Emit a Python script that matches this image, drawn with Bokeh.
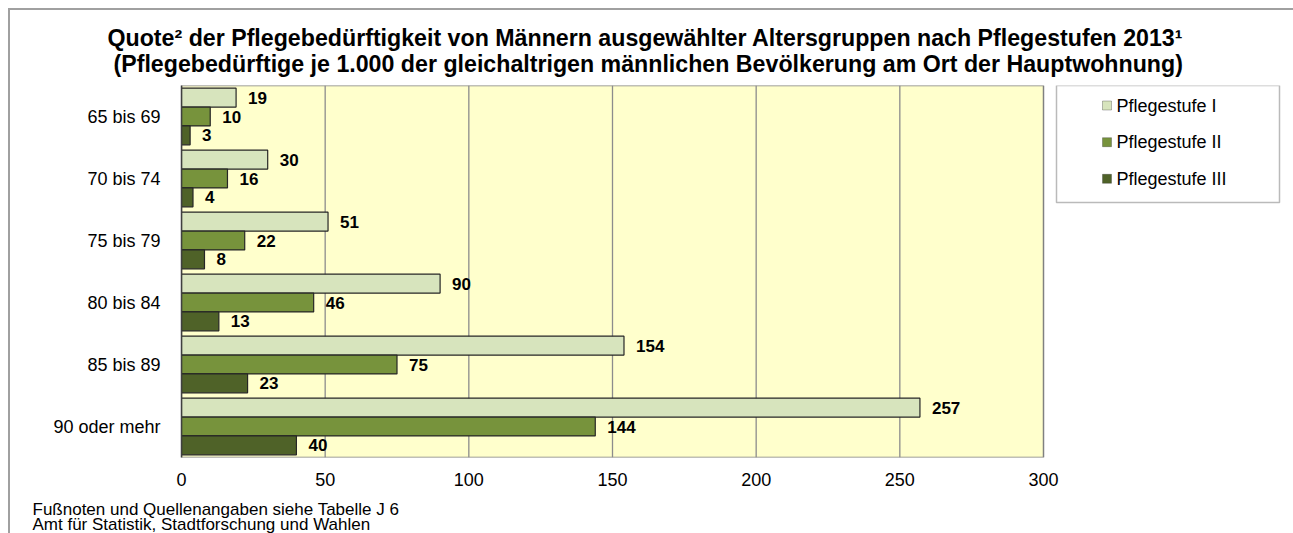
from bokeh.plotting import figure
from bokeh.models import (Range1d, FixedTicker, ColumnDataSource, LabelSet, Label,
                          BoxAnnotation, Title)
from bokeh.core.properties import value
from bokeh.embed import file_html
from bokeh.resources import INLINE

# ---------------- data ----------------
categories = ["65 bis 69", "70 bis 74", "75 bis 79", "80 bis 84", "85 bis 89", "90 oder mehr"]
stufe_1 = [19, 30, 51, 90, 154, 257]
stufe_2 = [10, 16, 22, 46, 75, 144]
stufe_3 = [3, 4, 8, 13, 23, 40]
series_names = ["Pflegestufe I", "Pflegestufe II", "Pflegestufe III"]
x_ticks = [0, 50, 100, 150, 200, 250, 300]

title_1 = "Quote² der Pflegebedürftigkeit von Männern ausgewählter Altersgruppen nach Pflegestufen 2013¹"
title_2 = "(Pflegebedürftige je 1.000 der gleichaltrigen männlichen Bevölkerung am Ort der Hauptwohnung)"
foot_1 = "Fußnoten und Quellenangaben siehe Tabelle J 6"
foot_2 = "Amt für Statistik, Stadtforschung und Wahlen"

# ---------------- style / layout ----------------
FONT = "Liberation Sans"
colors = ["#D7E4BD", "#77933C", "#4F6228"]
bar_h = 0.305
offsets = [bar_h, 0.0, -bar_h]
n = len(categories)
X_MAX = x_ticks[-1]

W, H = 1293, 533
LEFT, TOP, BOTTOM = 181, 85, 76
PLOT_W = 862                      # width of the yellow plot area in px
FRAME_W = W - LEFT                # frame extends to the right edge (legend lives there)

p = figure(width=W, height=H,
           x_range=Range1d(0, X_MAX * FRAME_W / PLOT_W), y_range=Range1d(0, n),
           output_backend="svg", toolbar_location=None,
           min_border_left=LEFT, min_border_right=0, min_border_top=TOP,
           min_border_bottom=BOTTOM)
p.background_fill_color = "white"
p.border_fill_alpha = 0
p.outline_line_color = None
p.styles = {
    "background-color": "white",
    "background-image": "linear-gradient(#A0A0A0, #A0A0A0), linear-gradient(#A0A0A0, #A0A0A0)",
    "background-size": "2px 100%, 100% 2px",
    "background-position": "8px 8px, 8px 8px",
    "background-repeat": "no-repeat",
}

# plot area (yellow) and vertical gridlines
p.quad(left=[0], right=[X_MAX], bottom=[0], top=[n], fill_color="#FFFFCC",
       line_color="#808080", line_width=1.5)
p.segment(x0=x_ticks[1:-1], x1=x_ticks[1:-1], y0=[0] * (len(x_ticks) - 2),
          y1=[n] * (len(x_ticks) - 2), line_color="#8C8C8C", line_width=1.3)

centers = [n - 0.5 - i for i in range(n)]
series = [stufe_1, stufe_2, stufe_3]
for k, vals in enumerate(series):
    src = ColumnDataSource(dict(
        y=[c + offsets[k] for c in centers],
        right=vals,
        label=[str(v) for v in vals],
    ))
    p.hbar(y="y", left=0, right="right", height=bar_h, source=src,
           fill_color=colors[k], line_color="#262626", line_width=1.2)
    p.add_layout(LabelSet(x="right", y="y", text="label", source=src, x_offset=12,
                          text_baseline="middle", text_align="left",
                          text_font=value(FONT), text_font_size="17px",
                          text_font_style="bold", text_color="black"))

# axes
p.xaxis.ticker = FixedTicker(ticks=x_ticks)
p.xaxis.major_tick_line_color = None
p.xaxis.minor_tick_line_color = None
p.xaxis.axis_line_color = None
p.xaxis.major_label_standoff = 9
p.xaxis.major_label_text_font = FONT
p.xaxis.major_label_text_font_size = "18px"
p.xaxis.major_label_text_color = "black"

p.yaxis.ticker = FixedTicker(ticks=centers)
p.yaxis.major_label_overrides = {c: categories[i] for i, c in enumerate(centers)}
p.yaxis.major_tick_line_color = None
p.yaxis.minor_tick_line_color = None
p.yaxis.axis_line_color = "#404040"
p.yaxis.axis_line_width = 1.5
p.yaxis.major_label_standoff = 15
p.yaxis.major_label_text_font = FONT
p.yaxis.major_label_text_font_size = "18px"
p.yaxis.major_label_text_color = "black"

p.xgrid.grid_line_color = None
p.ygrid.grid_line_color = None

# titles (above)
p.title.text = ""
t2 = Title(text=title_2, align="left", offset=113 - LEFT, standoff=18,
           text_font=FONT, text_font_size="23.2px", text_font_style="bold",
           text_color="black")
t1 = Title(text=title_1, align="left", offset=107 - LEFT, standoff=0,
           text_font=FONT, text_font_size="23.2px", text_font_style="bold",
           text_color="black")
try:
    t1.standoff = -22
except Exception:
    t1.standoff = 0
p.add_layout(t2, "above")
p.add_layout(t1, "above")

# footnotes (below): leading empty line pushes the two text lines down
ft = Title(text="\n" + foot_1 + "\n" + foot_2, align="left", offset=32 - LEFT,
           vertical_align="top", standoff=0,
           text_font=FONT, text_font_size="17px", text_font_style="normal",
           text_line_height=0.8, text_color="black")
try:
    ft.standoff = -7
except Exception:
    ft.text = foot_1 + "\n" + foot_2
    ft.standoff = 10
p.add_layout(ft, "below")

# legend (inside the extended frame; screen units relative to the frame)
def fx(px):
    return px - LEFT

def fy(py):
    return (H - BOTTOM) - py

p.add_layout(BoxAnnotation(left=fx(1056), right=fx(1279), top=fy(85), bottom=fy(202),
                           left_units="screen", right_units="screen",
                           top_units="screen", bottom_units="screen",
                           fill_color="white", fill_alpha=1,
                           line_color="#1A1A1A", line_width=1.5))
leg_py = [105, 141.7, 178.3]
for k, name in enumerate(series_names):
    cy = fy(leg_py[k])
    p.add_layout(BoxAnnotation(left=fx(1102), right=fx(1111), top=cy + 4.5, bottom=cy - 4.5,
                               left_units="screen", right_units="screen",
                               top_units="screen", bottom_units="screen",
                               fill_color=colors[k], fill_alpha=1,
                               line_color="#262626", line_width=1))
    p.add_layout(Label(x=fx(1116), y=cy, x_units="screen", y_units="screen", text=name,
                       text_align="left", text_baseline="middle",
                       text_font=FONT, text_font_size="18px", text_color="black"))

open("out.html", "w").write(file_html(p, INLINE))
